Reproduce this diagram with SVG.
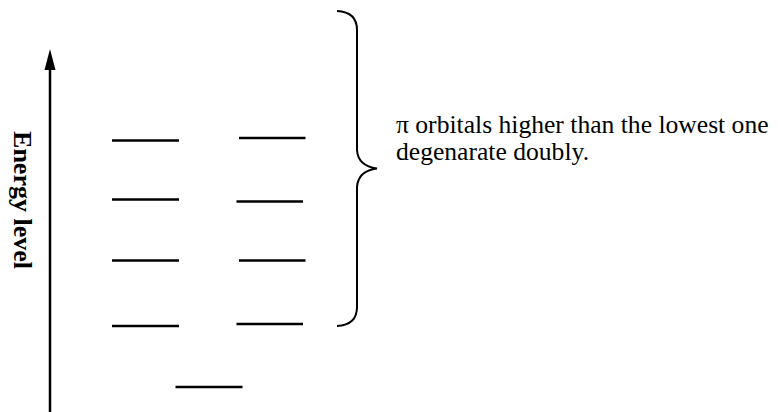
<svg xmlns="http://www.w3.org/2000/svg" width="778" height="412" viewBox="0 0 778 412">
<style>
.lvl{stroke:#000;stroke-width:2.5;fill:none}
.ax{stroke:#000;stroke-width:2.5;fill:none}
.br{stroke:#000;stroke-width:2;fill:none}
text{font-family:'Liberation Serif','Times New Roman','DejaVu Serif',serif;fill:#000}
.t{font-size:25.6px}
.tb{font-size:26px;font-weight:bold}
</style>
<rect width="778" height="412" fill="#fff"/>
<g id="axis">
<line class="ax" x1="50" y1="412" x2="50" y2="66"/>
<polygon points="50,49 44.5,70 55.5,70" fill="#000"/>
<text class="tb" font-family="Liberation Serif" transform="translate(14,200) rotate(90)" text-anchor="middle">Energy level</text>
</g>
<g id="levels">
<line class="lvl" x1="112" y1="140.5" x2="179" y2="140.5"/>
<line class="lvl" x1="112" y1="199.5" x2="179" y2="199.5"/>
<line class="lvl" x1="112" y1="260.5" x2="179" y2="260.5"/>
<line class="lvl" x1="112" y1="326" x2="179" y2="326"/>
<line class="lvl" x1="239" y1="138" x2="305.5" y2="138"/>
<line class="lvl" x1="236.5" y1="201.5" x2="303" y2="201.5"/>
<line class="lvl" x1="239" y1="260.5" x2="305.5" y2="260.5"/>
<line class="lvl" x1="236.5" y1="324" x2="303" y2="324"/>
<line class="lvl" x1="175.5" y1="387" x2="242.5" y2="387"/>
</g>
<g id="brace">
<path class="br" d="M337,11 Q357,12 357,30 L357,150 Q358,166 377,168.5 Q358,171 357,187 L357,307 Q357,325 337,326"/>
</g>
<g id="label">
<text class="t" font-family="Liberation Serif" x="396" y="133">π orbitals higher than the lowest one</text>
<text class="t" font-family="Liberation Serif" x="396" y="160">degenarate doubly.</text>
</g>
</svg>
